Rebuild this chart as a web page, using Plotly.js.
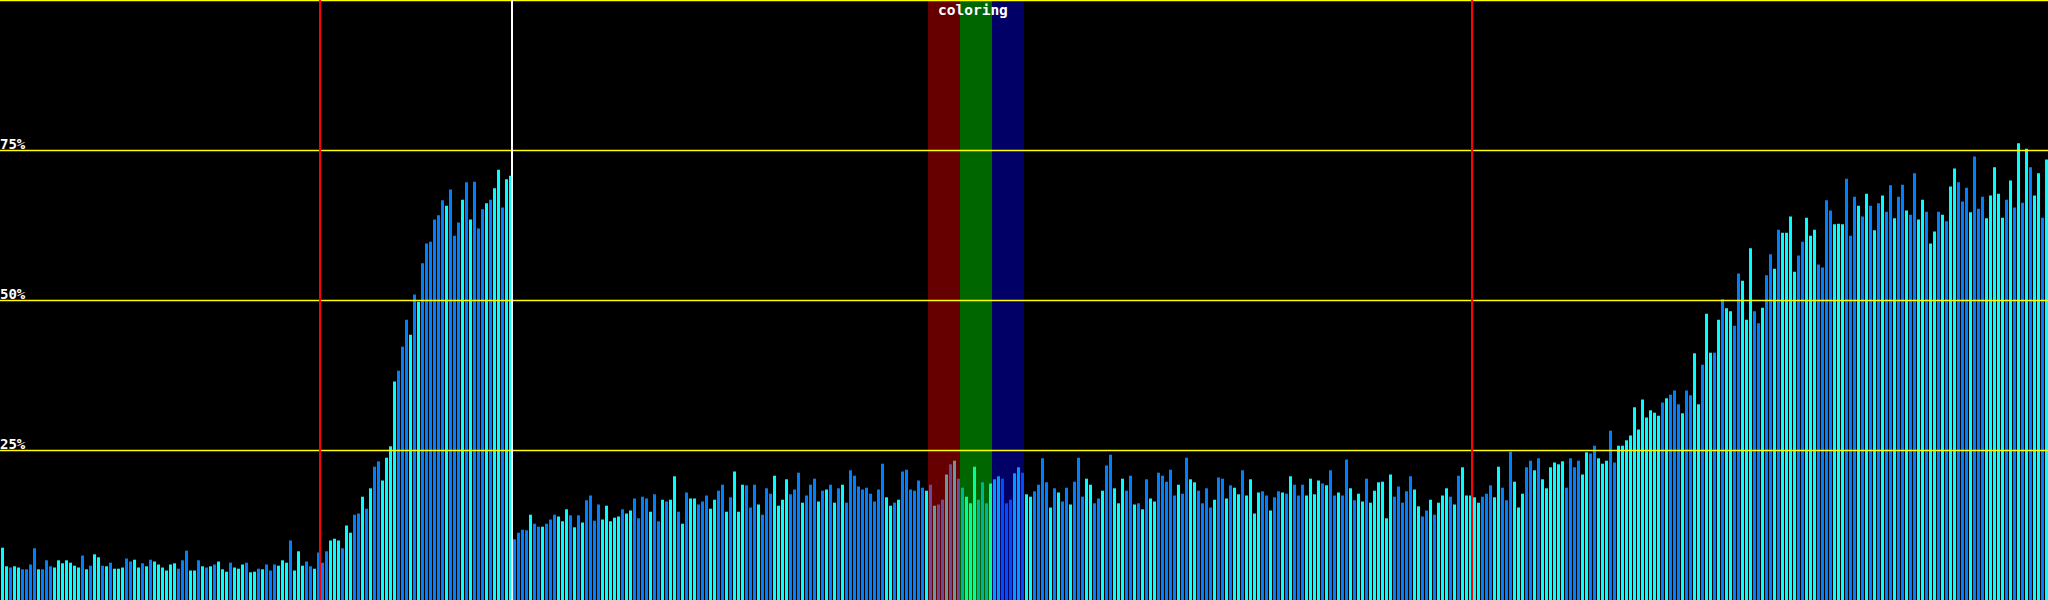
<!DOCTYPE html>
<html>
<head>
<meta charset="utf-8">
<script src="https://cdn.plot.ly/plotly-3.0.1.min.js"></script>
<style>
html,body{margin:0;padding:0;background:#000;overflow:hidden;}
#chart{width:2048px;height:600px;}
</style>
</head>
<body>
<div id="chart"></div>
<script>
// ---- data (percent values per bar) ----
var valuesA = [ // bars 0-74
 8.8,5.7,5.5,5.7,5.5,5.2,5.2,6.0,8.7,5.2,
 5.2,6.7,5.7,5.5,6.7,6.2,6.7,6.3,5.8,5.5,
 7.5,5.2,5.8,7.7,7.2,5.8,5.7,6.3,5.3,5.3,
 5.5,7.0,6.5,6.8,5.5,6.2,5.7,6.8,6.5,6.0,
 5.5,5.0,6.0,6.2,5.3,6.7,8.3,5.0,5.0,6.7,
 5.7,5.5,5.7,6.0,6.5,5.2,4.8,6.3,5.5,5.3,
 6.0,6.3,4.7,4.8,5.3,5.2,6.0,5.0,6.0,5.8,
 6.7,6.3,10.0,5.0,8.2];
var valuesB = [ // bars 75-127
 5.8,6.5,5.7,5.3,8.0,6.3,8.2,10.0,10.3,10.0,
 8.7,12.5,11.3,14.3,14.5,17.3,15.3,18.7,22.3,23.2,
 20.0,23.8,25.7,36.5,38.3,42.3,46.8,44.3,51.0,49.8,
 56.2,59.5,59.8,63.5,64.2,66.7,65.8,68.5,60.8,63.0,
 66.8,69.7,63.5,69.8,62.0,65.2,66.2,66.8,68.7,71.8,
 65.5,70.2,70.8];
var valuesC = [ // bars 128-227
 10.2,11.3,11.8,11.7,14.3,12.8,12.3,12.3,12.8,13.5,
 14.3,14.0,13.2,15.2,14.2,12.2,14.2,13.0,16.7,17.5,
 13.3,16.0,13.5,15.8,13.2,13.8,14.0,15.2,14.5,15.0,
 17.0,13.7,17.3,17.0,14.8,17.7,13.2,16.8,16.5,16.8,
 20.7,14.8,12.8,18.0,17.0,17.0,16.0,16.5,17.5,15.3,
 16.8,18.3,19.3,14.8,17.2,21.5,14.8,19.3,19.2,15.5,
 19.3,16.0,14.3,18.7,17.8,20.8,15.8,16.8,20.2,17.7,
 18.5,21.3,16.3,17.5,19.3,20.3,16.5,18.3,18.5,19.3,
 16.3,18.7,19.3,16.3,21.7,20.8,19.0,18.5,18.8,17.8,
 16.5,18.5,22.8,17.2,15.8,16.3,16.8,21.5,21.8,18.5];
var valuesD = [ // bars 228-327
 18.3,20.0,18.8,18.3,19.3,15.8,16.0,16.8,21.0,22.7,
 23.3,20.3,18.8,17.3,16.2,22.3,16.8,19.7,16.2,19.5,
 20.2,20.7,20.3,16.2,16.8,21.2,22.2,21.3,17.7,17.3,
 18.2,19.3,23.7,19.7,15.5,18.7,18.0,16.5,18.8,16.0,
 19.8,23.8,17.3,20.3,19.3,16.2,17.0,18.3,22.5,24.3,
 18.7,16.2,20.3,18.3,20.8,16.0,16.2,15.2,20.2,17.0,
 16.5,21.3,20.8,19.8,21.8,17.5,19.3,17.8,23.8,20.2,
 19.7,18.3,16.2,18.7,15.5,16.8,20.5,20.3,17.0,19.2,
 18.8,17.7,21.7,17.5,20.2,14.5,18.0,18.2,17.5,15.0,
 17.2,18.2,18.0,17.8,20.7,19.3,17.5,19.3,17.5,20.3];
var valuesE = [ // bars 328-427
 17.7,20.0,19.5,19.2,21.7,17.5,18.0,17.5,23.5,18.7,
 16.7,17.8,16.5,20.3,16.3,18.3,19.7,19.8,13.7,21.0,
 17.3,19.0,16.3,18.2,20.7,18.5,15.7,14.0,15.0,16.8,
 14.3,16.3,17.5,18.7,17.3,16.0,20.8,22.2,17.5,17.5,
 17.2,16.3,17.3,17.8,19.2,17.2,22.3,18.8,16.7,24.8,
 19.8,15.5,17.8,22.2,23.3,21.7,23.7,20.2,18.7,22.2,
 23.0,22.7,23.2,18.8,23.7,22.2,23.3,21.0,24.7,24.5,
 25.8,23.7,22.8,23.3,28.3,23.0,25.8,25.8,26.7,27.5,
 32.2,28.5,33.5,30.5,31.7,31.3,30.8,33.0,33.7,34.3,
 35.0,32.7,31.2,35.0,34.2,41.2,32.7,39.3,47.8,41.3];
var valuesF = [ // bars 428-511
 41.3,46.8,50.2,48.7,48.2,45.8,54.5,53.3,46.8,58.7,
 48.2,46.2,48.8,54.2,57.7,55.3,61.8,61.3,61.3,64.0,
 54.8,57.5,59.8,63.8,60.8,61.8,56.0,55.5,66.7,65.0,
 62.7,62.8,62.7,70.3,60.8,67.3,65.8,64.0,67.8,65.8,
 61.7,66.2,67.5,64.8,69.2,63.7,67.3,69.3,65.0,64.3,
 71.2,63.5,66.8,64.8,59.5,61.5,64.8,64.3,63.2,69.0,
 72.0,69.7,66.5,68.8,64.7,74.0,65.3,67.3,63.7,67.5,
 72.2,67.8,63.8,66.8,70.0,65.5,76.2,66.3,75.3,72.2,
 67.5,71.2,63.8,73.5];

// shade per bar: 1 = cyan, 0 = blue
var shadeA = [1,1,0,1,1,0,0,0,0,1, 0,0,0,1,1,1,1,1,1,1, 0,1,0,1,1,0,1,0,1,1, 1,0,0,1,1,0,1,0,1,1,
              1,1,1,1,0,0,0,1,1,0, 1,0,1,0,1,1,1,0,1,1, 1,0,1,1,0,1,0,0,0,1, 1,1,0,1,1];
var shadeB = [1,0,0,1,0,0,0,1,1,1, 0,1,1,0,0,1,0,1,0,0, 1,1,1,1,0,0,0,1,0,1, 0,0,0,0,0,0,1,0,0,0,
              1,0,1,0,0,0,1,0,1,1, 0,1,1];
var shadeC = [0,0,0,0,1,0,0,1,0,0, 0,1,1,1,0,1,0,1,0,0, 0,0,1,1,1,1,1,0,1,1, 0,0,0,0,1,0,0,1,0,1,
              1,0,1,0,1,1,0,0,0,1, 1,0,0,1,0,1,1,1,0,0, 0,1,0,0,0,1,1,1,1,0, 0,0,1,0,0,0,1,0,1,0,
              1,0,1,0,0,0,0,0,0,0, 0,0,0,1,1,0,1,0,0,0];
var shadeD = [0,0,0,1,0,1,0,0,1,0, 1,0,0,1,1,1,0,0,0,1, 1,1,0,0,0,1,1,0,1,1, 0,0,0,0,1,0,1,0,0,1,
              0,0,0,1,1,0,0,1,0,0, 1,1,1,0,0,1,0,1,0,1, 1,0,0,0,0,0,1,0,0,1, 1,0,0,0,0,1,0,0,1,0,
              1,1,0,1,1,1,1,0,0,1, 0,0,1,0,1,0,0,0,1,1];
var shadeE = [1,1,0,1,0,0,1,0,0,1, 0,1,1,0,1,1,1,1,1,1, 0,0,0,0,0,1,1,0,0,1, 0,1,1,1,0,1,0,1,1,1,
              1,1,0,0,0,1,1,0,0,0, 1,1,1,0,0,1,0,1,1,1, 1,1,1,0,0,0,0,1,1,0, 0,1,1,1,0,0,1,1,1,1,
              1,1,1,1,1,1,1,0,1,0, 0,0,1,0,0,1,1,0,1,1];
var shadeF = [0,1,0,1,1,0,0,1,1,1, 0,0,1,0,0,1,0,1,1,1, 1,0,0,1,1,1,0,0,0,0, 1,1,1,0,0,0,1,0,1,0,
              1,0,1,0,0,1,0,0,1,0, 0,1,1,0,1,1,0,1,0,1, 1,0,0,0,1,0,0,0,1,1, 1,1,1,0,1,0,1,0,1,0,
              1,1,0,1];

var gridLevels = [25, 50, 75, 100];
var gridLabels = ['25%', '50%', '75%'];
var redMarks = [80, 368];      // bar index where red divider sits
var whiteMarks = [128];        // bar index where white divider sits
var bandStarts = [232, 240, 248]; // first bar of each coloring band
var bandWidth = 8;
var bandColors = ['rgba(255,0,0,0.4)', 'rgba(0,255,0,0.4)', 'rgba(0,0,255,0.4)'];
var bandTitle = 'coloring';

// ---- build ----
var values = [].concat(valuesA, valuesB, valuesC, valuesD, valuesE, valuesF);
var shade = [].concat(shadeA, shadeB, shadeC, shadeD, shadeE, shadeF);
var xs = values.map(function (_, i) { return i; });
var colors = shade.map(function (s) { return s ? '#00ffff' : '#0080ff'; });

var N = values.length;
var xOff = 0.625;

var shapes = [];
bandStarts.forEach(function (b, k) {
  shapes.push({type: 'rect', layer: 'above', xref: 'x', yref: 'paper',
    x0: b - xOff, x1: b + bandWidth - xOff, y0: 0, y1: 1,
    fillcolor: bandColors[k], line: {width: 0}});
});
gridLevels.forEach(function (g) {
  shapes.push({type: 'line', layer: 'above', xref: 'paper', yref: 'y',
    x0: 0, x1: 1, y0: g, y1: g, line: {color: '#ffff00', width: 1.5}});
});
redMarks.forEach(function (m) {
  shapes.push({type: 'line', layer: 'above', xref: 'x', yref: 'paper',
    x0: m - xOff, x1: m - xOff, y0: 0, y1: 1, line: {color: '#ff0000', width: 2}});
});
whiteMarks.forEach(function (m) {
  shapes.push({type: 'line', layer: 'above', xref: 'x', yref: 'paper',
    x0: m - xOff, x1: m - xOff, y0: 0, y1: 1, line: {color: '#ffffff', width: 2}});
});

var annotations = gridLabels.map(function (t, k) {
  return {text: '<b>' + t + '</b>', xref: 'paper', yref: 'y', x: 0, y: gridLevels[k],
    xanchor: 'left', yanchor: 'bottom', showarrow: false, borderpad: 0,
    xshift: -1, yshift: -2,
    font: {family: 'DejaVu Sans Mono, monospace', size: 14, color: '#ffffff'}};
});
annotations.push({text: '<b>' + bandTitle + '</b>', xref: 'x', yref: 'paper',
  x: bandStarts[0] + bandWidth * bandStarts.length / 2 - xOff, y: 1,
  xanchor: 'center', yanchor: 'top', showarrow: false, borderpad: 0, yshift: -1,
  xshift: -3,
  font: {family: 'DejaVu Sans Mono, monospace', size: 14.5, color: '#ffffff'}});

var trace = {
  type: 'bar', x: xs, y: values,
  marker: {color: colors, line: {width: 0}},
  hoverinfo: 'skip'
};

var layout = {
  width: 2048, height: 600,
  margin: {l: 0, r: 0, t: 0, b: 0, pad: 0},
  paper_bgcolor: '#000000', plot_bgcolor: '#000000',
  showlegend: false, bargap: 0.25,
  xaxis: {range: [-xOff, N - xOff], visible: false, fixedrange: true},
  yaxis: {range: [0.0833, 100.0833], visible: false, fixedrange: true},
  shapes: shapes, annotations: annotations
};

Plotly.newPlot('chart', [trace], layout, {staticPlot: true, displayModeBar: false});
</script>
</body>
</html>
